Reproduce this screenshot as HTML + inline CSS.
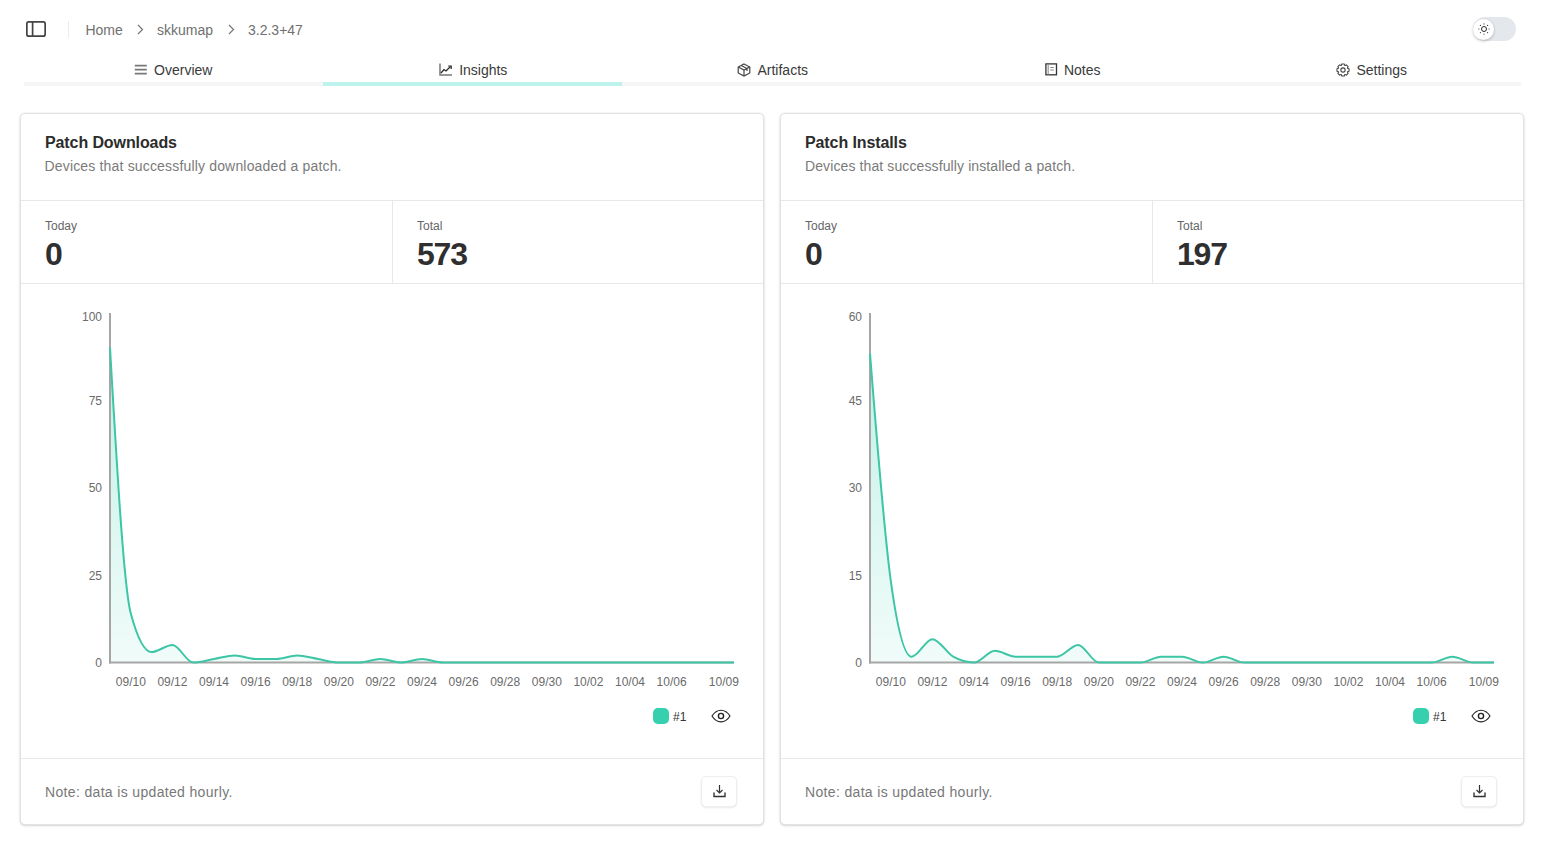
<!DOCTYPE html>
<html><head><meta charset="utf-8">
<style>
*{box-sizing:border-box;margin:0;padding:0}
html,body{width:1553px;height:850px;overflow:hidden;background:#fff;font-family:"Liberation Sans",sans-serif;color:#262626}
.abs{position:absolute}
.t{position:absolute;white-space:nowrap;line-height:1}
.crumb{font-size:14px;color:#707070;margin-left:-0.6px}
.tab{position:absolute;top:59px;height:22px;display:flex;align-items:center;justify-content:center;font-size:14px;color:#3a3a3a}
.tab svg{margin-right:6px}
.card{position:absolute;top:113px;width:744px;height:712px;border:1px solid #e3e3e3;border-radius:5px;background:#fff;box-shadow:0 0 0 1px rgba(0,0,0,0.025),0 1px 3px 0 rgba(0,0,0,0.12),0 1px 2px -1px rgba(0,0,0,0.1)}
.hr{position:absolute;left:0;right:0;height:1px;background:#e8e8e8}
.vr{position:absolute;width:1px;background:#e8e8e8}
.title{font-size:16px;font-weight:bold;color:#2c2c2c;letter-spacing:-0.1px}
.sub{font-size:14px;color:#7a7a7a;letter-spacing:0.17px}
.lbl{font-size:12px;color:#666}
.big{font-size:32px;font-weight:bold;color:#2f2f2f;letter-spacing:-1.2px}
.ax{font-size:12px;color:#6b6b6b}
.note{font-size:14px;color:#787878;letter-spacing:0.34px}
.dl{position:absolute;width:36px;height:31px;border:1px solid #eeeeee;border-radius:5px;background:#fff;box-shadow:0 1px 2px rgba(0,0,0,0.09)}
</style></head><body>
<!-- top bar -->
<svg class="abs" style="left:26px;top:21px" width="20" height="16" viewBox="0 0 20 16"><rect x="0.85" y="0.85" width="18.3" height="14.3" rx="2" fill="none" stroke="#444" stroke-width="1.7"/><line x1="6.6" y1="1" x2="6.6" y2="15" stroke="#444" stroke-width="1.7"/></svg>
<div class="abs" style="left:68px;top:21px;width:1px;height:17px;background:#ececec"></div>
<div class="t crumb" style="left:86px;top:23px">Home</div>
<svg class="abs" style="left:137px;top:24px" width="7" height="11" viewBox="0 0 7 11"><path d="M1 1L5.5 5.5L1 10" fill="none" stroke="#777" stroke-width="1.2"/></svg>
<div class="t crumb" style="left:157.6px;top:23px">skkumap</div>
<svg class="abs" style="left:228px;top:24px" width="7" height="11" viewBox="0 0 7 11"><path d="M1 1L5.5 5.5L1 10" fill="none" stroke="#777" stroke-width="1.2"/></svg>
<div class="t crumb" style="left:248.6px;top:23px">3.2.3+47</div>
<!-- toggle -->
<div class="abs" style="left:1473px;top:17px;width:43px;height:24px;border-radius:12px;background:#e4e7ec"></div>
<div class="abs" style="left:1473px;top:19px;width:21px;height:21px;border-radius:50%;background:#fff;box-shadow:0 1px 3px rgba(0,0,0,0.25)"></div>
<svg class="abs" style="left:1478px;top:23px" width="12" height="12" viewBox="0 0 12 12"><circle cx="6" cy="6" r="2.5" fill="none" stroke="#222" stroke-width="0.95"/><g fill="#333"><circle cx="6" cy="0.9" r="0.6"/><circle cx="6" cy="11.1" r="0.6"/><circle cx="0.9" cy="6" r="0.6"/><circle cx="11.1" cy="6" r="0.6"/><circle cx="2.4" cy="2.4" r="0.6"/><circle cx="9.6" cy="2.4" r="0.6"/><circle cx="2.4" cy="9.6" r="0.6"/><circle cx="9.6" cy="9.6" r="0.6"/></g></svg>
<!-- tabs -->
<div class="abs" style="left:24px;top:82px;width:1497px;height:4px;background:#f6f6f6"></div>
<div class="abs" style="left:323px;top:82px;width:299px;height:4px;background:#bdf3ec"></div>
<div class="tab" style="left:24.0px;width:299.5px">
 <svg width="13" height="13" viewBox="0 0 13 13" style="overflow:visible"><path d="M-0.2 1.6H11.8M-0.2 5.6H11.8M-0.2 9.6H11.8" stroke="#777" stroke-width="1.8"/></svg>Overview</div>
<div class="tab" style="left:323.5px;width:299.5px">
 <svg width="14" height="13" viewBox="0 0 14 13" style="position:relative;top:-1px"><path d="M1 0.5V12H13" fill="none" stroke="#777" stroke-width="1.5"/><path d="M2 10L5 6.5L7 8L11.5 3.5" fill="none" stroke="#222" stroke-width="1.2"/><path d="M9.2 3H12.2V6" fill="none" stroke="#222" stroke-width="1.2"/></svg>Insights</div>
<div class="tab" style="left:623.0px;width:299.5px">
 <svg width="14" height="14" viewBox="0 0 14 14" style="position:relative;top:-0.5px"><path d="M7 1L12.8 4V10L7 13L1.2 10V4Z" fill="none" stroke="#444" stroke-width="1.2"/><path d="M1.2 4L7 7L12.8 4M7 7V13M4.2 2.5L10 5.5V8" fill="none" stroke="#444" stroke-width="1.2"/></svg>Artifacts</div>
<div class="tab" style="left:922.5px;width:299.5px">
 <svg width="13" height="13" viewBox="0 0 13 13" style="position:relative;top:-1px;margin-left:1px"><rect x="0.9" y="0.9" width="10.6" height="10.9" fill="none" stroke="#333" stroke-width="1.3"/><path d="M3.2 1.2V11.5" stroke="#999" stroke-width="1.2"/><path d="M5.3 4.5H8.7M5.3 7H8.7" stroke="#888" stroke-width="1.1"/></svg>Notes</div>
<div class="tab" style="left:1222.0px;width:299.5px">
 <svg width="14" height="14" viewBox="0 0 15 15" style="position:relative;top:-0.5px"><path d="M12.37 5.67L13.97 6.19L13.97 8.81L12.37 9.33L12.24 9.65L13.00 11.15L11.15 13.00L9.65 12.24L9.33 12.37L8.81 13.97L6.19 13.97L5.67 12.37L5.35 12.24L3.85 13.00L2.00 11.15L2.76 9.65L2.63 9.33L1.03 8.81L1.03 6.19L2.63 5.67L2.76 5.35L2.00 3.85L3.85 2.00L5.35 2.76L5.67 2.63L6.19 1.03L8.81 1.03L9.33 2.63L9.65 2.76L11.15 2.00L13.00 3.85L12.24 5.35Z" fill="none" stroke="#444" stroke-width="1.15" stroke-linejoin="round"/><circle cx="7.5" cy="7.5" r="2.3" fill="none" stroke="#444" stroke-width="1.15"/></svg>Settings</div>
<div class="card" style="left:20px">
 <div class="t title" style="left:24px;top:21px">Patch Downloads</div>
 <div class="t sub" style="left:23.5px;top:45px;letter-spacing:0.17px">Devices that successfully downloaded a patch.</div>
 <div class="hr" style="top:86px"></div>
 <div class="t lbl" style="left:24px;top:106px">Today</div>
 <div class="t big" style="left:24px;top:123.6px">0</div>
 <div class="vr" style="left:371px;top:87px;height:82px"></div>
 <div class="t lbl" style="left:396px;top:106px">Total</div>
 <div class="t big" style="left:396px;top:123.6px">573</div>
 <div class="hr" style="top:169px"></div>
 <div class="t ax" style="right:661px;top:543.1px;text-align:right">0</div>
 <div class="t ax" style="right:661px;top:455.6px;text-align:right">25</div>
 <div class="t ax" style="right:661px;top:368.1px;text-align:right">50</div>
 <div class="t ax" style="right:661px;top:280.6px;text-align:right">75</div>
 <div class="t ax" style="right:661px;top:196.6px;text-align:right">100</div>
 <div class="t ax" style="left:109.8px;top:562.4px;width:40px;text-align:center;margin-left:-20px">09/10</div>
 <div class="t ax" style="left:151.4px;top:562.4px;width:40px;text-align:center;margin-left:-20px">09/12</div>
 <div class="t ax" style="left:193.0px;top:562.4px;width:40px;text-align:center;margin-left:-20px">09/14</div>
 <div class="t ax" style="left:234.6px;top:562.4px;width:40px;text-align:center;margin-left:-20px">09/16</div>
 <div class="t ax" style="left:276.2px;top:562.4px;width:40px;text-align:center;margin-left:-20px">09/18</div>
 <div class="t ax" style="left:317.8px;top:562.4px;width:40px;text-align:center;margin-left:-20px">09/20</div>
 <div class="t ax" style="left:359.4px;top:562.4px;width:40px;text-align:center;margin-left:-20px">09/22</div>
 <div class="t ax" style="left:401.0px;top:562.4px;width:40px;text-align:center;margin-left:-20px">09/24</div>
 <div class="t ax" style="left:442.6px;top:562.4px;width:40px;text-align:center;margin-left:-20px">09/26</div>
 <div class="t ax" style="left:484.2px;top:562.4px;width:40px;text-align:center;margin-left:-20px">09/28</div>
 <div class="t ax" style="left:525.8px;top:562.4px;width:40px;text-align:center;margin-left:-20px">09/30</div>
 <div class="t ax" style="left:567.4px;top:562.4px;width:40px;text-align:center;margin-left:-20px">10/02</div>
 <div class="t ax" style="left:609.0px;top:562.4px;width:40px;text-align:center;margin-left:-20px">10/04</div>
 <div class="t ax" style="left:650.6px;top:562.4px;width:40px;text-align:center;margin-left:-20px">10/06</div>
 <div class="t ax" style="left:687.8px;top:562.4px">10/09</div>
 <div class="abs" style="left:632px;top:594px;width:16px;height:16px;border-radius:5px;background:#36d0ae"></div>
 <div class="t" style="left:652px;top:596.7px;font-size:12px;color:#333">#1</div>
 <svg class="abs" style="left:690px;top:595px" width="20" height="14" viewBox="0 0 20 14"><path d="M1 7C3.5 3 6.5 1.2 10 1.2S16.5 3 19 7C16.5 11 13.5 12.8 10 12.8S3.5 11 1 7Z" fill="none" stroke="#222" stroke-width="1.15"/><circle cx="10" cy="7" r="2.6" fill="none" stroke="#222" stroke-width="1.4"/></svg>
 <div class="hr" style="top:644px"></div>
 <div class="t note" style="left:24px;top:671px">Note: data is updated hourly.</div>
 <div class="dl" style="left:680px;top:662px"><svg class="abs" style="left:11px;top:7px" width="13" height="14" viewBox="0 0 13 14"><path d="M6.5 1V9M3.5 6L6.5 9L9.5 6" fill="none" stroke="#333" stroke-width="1.2"/><path d="M1 8.5V12.5H12V8.5" fill="none" stroke="#333" stroke-width="1.4"/></svg></div>
</div>
<svg class="abs" style="left:0;top:0" width="1553" height="850"><defs><linearGradient id="g0" x1="0" y1="0" x2="0" y2="1"><stop offset="0" stop-color="#36d0ae" stop-opacity="0.3"/><stop offset="1" stop-color="#36d0ae" stop-opacity="0.07"/></linearGradient></defs><path d="M110.00,347.50C116.93,467.67,123.87,587.83,130.80,613.50C137.73,639.17,144.67,652.00,151.60,652.00C158.53,652.00,165.47,645.00,172.40,645.00C179.33,645.00,186.27,662.50,193.20,662.50C200.13,662.50,207.07,660.17,214.00,659.00C220.93,657.83,227.87,655.50,234.80,655.50C241.73,655.50,248.67,659.00,255.60,659.00C262.53,659.00,269.47,659.00,276.40,659.00C283.33,659.00,290.27,655.50,297.20,655.50C304.13,655.50,311.07,657.83,318.00,659.00C324.93,660.17,331.87,662.50,338.80,662.50C345.73,662.50,352.67,662.50,359.60,662.50C366.53,662.50,373.47,659.00,380.40,659.00C387.33,659.00,394.27,662.50,401.20,662.50C408.13,662.50,415.07,659.00,422.00,659.00C428.93,659.00,435.87,662.50,442.80,662.50C449.73,662.50,456.67,662.50,463.60,662.50C470.53,662.50,477.47,662.50,484.40,662.50C491.33,662.50,498.27,662.50,505.20,662.50C512.13,662.50,519.07,662.50,526.00,662.50C532.93,662.50,539.87,662.50,546.80,662.50C553.73,662.50,560.67,662.50,567.60,662.50C574.53,662.50,581.47,662.50,588.40,662.50C595.33,662.50,602.27,662.50,609.20,662.50C616.13,662.50,623.07,662.50,630.00,662.50C636.93,662.50,643.87,662.50,650.80,662.50C657.73,662.50,664.67,662.50,671.60,662.50C678.53,662.50,685.47,662.50,692.40,662.50C699.33,662.50,706.27,662.50,713.20,662.50C720.13,662.50,727.07,662.50,734.00,662.50L734.00,662.50L110.00,662.50Z" fill="url(#g0)"/><line x1="110" y1="313" x2="110" y2="663.5" stroke="#a6a6a6" stroke-width="2"/><line x1="109" y1="662.5" x2="734" y2="662.5" stroke="#a6a6a6" stroke-width="2"/><path d="M110.00,347.50C116.93,467.67,123.87,587.83,130.80,613.50C137.73,639.17,144.67,652.00,151.60,652.00C158.53,652.00,165.47,645.00,172.40,645.00C179.33,645.00,186.27,662.50,193.20,662.50C200.13,662.50,207.07,660.17,214.00,659.00C220.93,657.83,227.87,655.50,234.80,655.50C241.73,655.50,248.67,659.00,255.60,659.00C262.53,659.00,269.47,659.00,276.40,659.00C283.33,659.00,290.27,655.50,297.20,655.50C304.13,655.50,311.07,657.83,318.00,659.00C324.93,660.17,331.87,662.50,338.80,662.50C345.73,662.50,352.67,662.50,359.60,662.50C366.53,662.50,373.47,659.00,380.40,659.00C387.33,659.00,394.27,662.50,401.20,662.50C408.13,662.50,415.07,659.00,422.00,659.00C428.93,659.00,435.87,662.50,442.80,662.50C449.73,662.50,456.67,662.50,463.60,662.50C470.53,662.50,477.47,662.50,484.40,662.50C491.33,662.50,498.27,662.50,505.20,662.50C512.13,662.50,519.07,662.50,526.00,662.50C532.93,662.50,539.87,662.50,546.80,662.50C553.73,662.50,560.67,662.50,567.60,662.50C574.53,662.50,581.47,662.50,588.40,662.50C595.33,662.50,602.27,662.50,609.20,662.50C616.13,662.50,623.07,662.50,630.00,662.50C636.93,662.50,643.87,662.50,650.80,662.50C657.73,662.50,664.67,662.50,671.60,662.50C678.53,662.50,685.47,662.50,692.40,662.50C699.33,662.50,706.27,662.50,713.20,662.50C720.13,662.50,727.07,662.50,734.00,662.50" fill="none" stroke="#3cc6a6" stroke-width="2"/></svg>
<div class="card" style="left:780px">
 <div class="t title" style="left:24px;top:21px">Patch Installs</div>
 <div class="t sub" style="left:24px;top:45px;letter-spacing:0.11px">Devices that successfully installed a patch.</div>
 <div class="hr" style="top:86px"></div>
 <div class="t lbl" style="left:24px;top:106px">Today</div>
 <div class="t big" style="left:24px;top:123.6px">0</div>
 <div class="vr" style="left:371px;top:87px;height:82px"></div>
 <div class="t lbl" style="left:396px;top:106px">Total</div>
 <div class="t big" style="left:396px;top:123.6px">197</div>
 <div class="hr" style="top:169px"></div>
 <div class="t ax" style="right:661px;top:543.1px;text-align:right">0</div>
 <div class="t ax" style="right:661px;top:455.6px;text-align:right">15</div>
 <div class="t ax" style="right:661px;top:368.1px;text-align:right">30</div>
 <div class="t ax" style="right:661px;top:280.6px;text-align:right">45</div>
 <div class="t ax" style="right:661px;top:196.6px;text-align:right">60</div>
 <div class="t ax" style="left:109.8px;top:562.4px;width:40px;text-align:center;margin-left:-20px">09/10</div>
 <div class="t ax" style="left:151.4px;top:562.4px;width:40px;text-align:center;margin-left:-20px">09/12</div>
 <div class="t ax" style="left:193.0px;top:562.4px;width:40px;text-align:center;margin-left:-20px">09/14</div>
 <div class="t ax" style="left:234.6px;top:562.4px;width:40px;text-align:center;margin-left:-20px">09/16</div>
 <div class="t ax" style="left:276.2px;top:562.4px;width:40px;text-align:center;margin-left:-20px">09/18</div>
 <div class="t ax" style="left:317.8px;top:562.4px;width:40px;text-align:center;margin-left:-20px">09/20</div>
 <div class="t ax" style="left:359.4px;top:562.4px;width:40px;text-align:center;margin-left:-20px">09/22</div>
 <div class="t ax" style="left:401.0px;top:562.4px;width:40px;text-align:center;margin-left:-20px">09/24</div>
 <div class="t ax" style="left:442.6px;top:562.4px;width:40px;text-align:center;margin-left:-20px">09/26</div>
 <div class="t ax" style="left:484.2px;top:562.4px;width:40px;text-align:center;margin-left:-20px">09/28</div>
 <div class="t ax" style="left:525.8px;top:562.4px;width:40px;text-align:center;margin-left:-20px">09/30</div>
 <div class="t ax" style="left:567.4px;top:562.4px;width:40px;text-align:center;margin-left:-20px">10/02</div>
 <div class="t ax" style="left:609.0px;top:562.4px;width:40px;text-align:center;margin-left:-20px">10/04</div>
 <div class="t ax" style="left:650.6px;top:562.4px;width:40px;text-align:center;margin-left:-20px">10/06</div>
 <div class="t ax" style="left:687.8px;top:562.4px">10/09</div>
 <div class="abs" style="left:632px;top:594px;width:16px;height:16px;border-radius:5px;background:#36d0ae"></div>
 <div class="t" style="left:652px;top:596.7px;font-size:12px;color:#333">#1</div>
 <svg class="abs" style="left:690px;top:595px" width="20" height="14" viewBox="0 0 20 14"><path d="M1 7C3.5 3 6.5 1.2 10 1.2S16.5 3 19 7C16.5 11 13.5 12.8 10 12.8S3.5 11 1 7Z" fill="none" stroke="#222" stroke-width="1.15"/><circle cx="10" cy="7" r="2.6" fill="none" stroke="#222" stroke-width="1.4"/></svg>
 <div class="hr" style="top:644px"></div>
 <div class="t note" style="left:24px;top:671px">Note: data is updated hourly.</div>
 <div class="dl" style="left:680px;top:662px"><svg class="abs" style="left:11px;top:7px" width="13" height="14" viewBox="0 0 13 14"><path d="M6.5 1V9M3.5 6L6.5 9L9.5 6" fill="none" stroke="#333" stroke-width="1.2"/><path d="M1 8.5V12.5H12V8.5" fill="none" stroke="#333" stroke-width="1.4"/></svg></div>
</div>
<svg class="abs" style="left:0;top:0" width="1553" height="850"><defs><linearGradient id="g760" x1="0" y1="0" x2="0" y2="1"><stop offset="0" stop-color="#36d0ae" stop-opacity="0.3"/><stop offset="1" stop-color="#36d0ae" stop-opacity="0.07"/></linearGradient></defs><path d="M870.00,353.33C876.93,441.81,883.87,530.28,890.80,580.83C897.73,631.39,904.67,656.67,911.60,656.67C918.53,656.67,925.47,639.17,932.40,639.17C939.33,639.17,946.27,652.78,953.20,656.67C960.13,660.56,967.07,662.50,974.00,662.50C980.93,662.50,987.87,650.83,994.80,650.83C1001.73,650.83,1008.67,656.67,1015.60,656.67C1022.53,656.67,1029.47,656.67,1036.40,656.67C1043.33,656.67,1050.27,656.67,1057.20,656.67C1064.13,656.67,1071.07,645.00,1078.00,645.00C1084.93,645.00,1091.87,662.50,1098.80,662.50C1105.73,662.50,1112.67,662.50,1119.60,662.50C1126.53,662.50,1133.47,662.50,1140.40,662.50C1147.33,662.50,1154.27,656.67,1161.20,656.67C1168.13,656.67,1175.07,656.67,1182.00,656.67C1188.93,656.67,1195.87,662.50,1202.80,662.50C1209.73,662.50,1216.67,656.67,1223.60,656.67C1230.53,656.67,1237.47,662.50,1244.40,662.50C1251.33,662.50,1258.27,662.50,1265.20,662.50C1272.13,662.50,1279.07,662.50,1286.00,662.50C1292.93,662.50,1299.87,662.50,1306.80,662.50C1313.73,662.50,1320.67,662.50,1327.60,662.50C1334.53,662.50,1341.47,662.50,1348.40,662.50C1355.33,662.50,1362.27,662.50,1369.20,662.50C1376.13,662.50,1383.07,662.50,1390.00,662.50C1396.93,662.50,1403.87,662.50,1410.80,662.50C1417.73,662.50,1424.67,662.50,1431.60,662.50C1438.53,662.50,1445.47,656.67,1452.40,656.67C1459.33,656.67,1466.27,662.50,1473.20,662.50C1480.13,662.50,1487.07,662.50,1494.00,662.50L1494.00,662.50L870.00,662.50Z" fill="url(#g760)"/><line x1="870" y1="313" x2="870" y2="663.5" stroke="#a6a6a6" stroke-width="2"/><line x1="869" y1="662.5" x2="1494" y2="662.5" stroke="#a6a6a6" stroke-width="2"/><path d="M870.00,353.33C876.93,441.81,883.87,530.28,890.80,580.83C897.73,631.39,904.67,656.67,911.60,656.67C918.53,656.67,925.47,639.17,932.40,639.17C939.33,639.17,946.27,652.78,953.20,656.67C960.13,660.56,967.07,662.50,974.00,662.50C980.93,662.50,987.87,650.83,994.80,650.83C1001.73,650.83,1008.67,656.67,1015.60,656.67C1022.53,656.67,1029.47,656.67,1036.40,656.67C1043.33,656.67,1050.27,656.67,1057.20,656.67C1064.13,656.67,1071.07,645.00,1078.00,645.00C1084.93,645.00,1091.87,662.50,1098.80,662.50C1105.73,662.50,1112.67,662.50,1119.60,662.50C1126.53,662.50,1133.47,662.50,1140.40,662.50C1147.33,662.50,1154.27,656.67,1161.20,656.67C1168.13,656.67,1175.07,656.67,1182.00,656.67C1188.93,656.67,1195.87,662.50,1202.80,662.50C1209.73,662.50,1216.67,656.67,1223.60,656.67C1230.53,656.67,1237.47,662.50,1244.40,662.50C1251.33,662.50,1258.27,662.50,1265.20,662.50C1272.13,662.50,1279.07,662.50,1286.00,662.50C1292.93,662.50,1299.87,662.50,1306.80,662.50C1313.73,662.50,1320.67,662.50,1327.60,662.50C1334.53,662.50,1341.47,662.50,1348.40,662.50C1355.33,662.50,1362.27,662.50,1369.20,662.50C1376.13,662.50,1383.07,662.50,1390.00,662.50C1396.93,662.50,1403.87,662.50,1410.80,662.50C1417.73,662.50,1424.67,662.50,1431.60,662.50C1438.53,662.50,1445.47,656.67,1452.40,656.67C1459.33,656.67,1466.27,662.50,1473.20,662.50C1480.13,662.50,1487.07,662.50,1494.00,662.50" fill="none" stroke="#3cc6a6" stroke-width="2"/></svg>
</body></html>
